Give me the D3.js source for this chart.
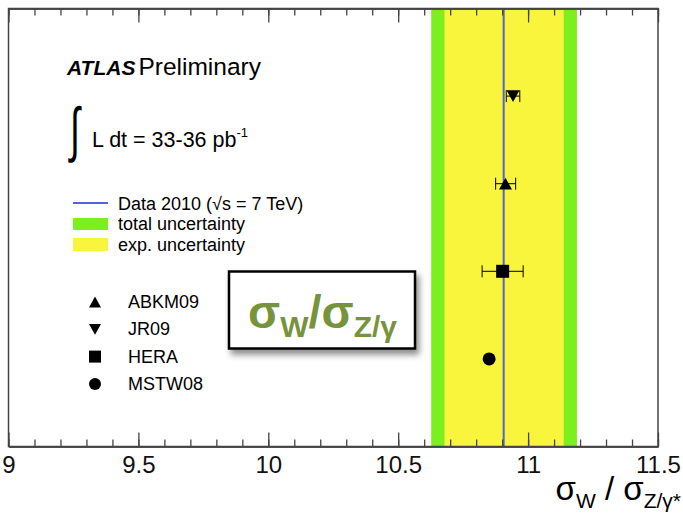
<!DOCTYPE html>
<html>
<head>
<meta charset="utf-8">
<script src="https://cdn.jsdelivr.net/npm/d3@7"></script>
<style>
  body { margin: 0; background: #fff; }
  text { font-family: 'Liberation Sans', Arial, sans-serif; }
</style>
</head>
<body>
<div id="chart"></div>
<script>
// measured ratio and its uncertainty bands
var dataValue = 10.906
var expBand = [10.678, 11.137]
var totalBand = [10.627, 11.188]

// theory predictions (PDF sets)
var models = ['MSTW08', 'HERA', 'ABKM09', 'JR09']
var modelValues = [10.85, 10.902, 10.913, 10.942]
var modelLow = [10.85, 10.823, 10.875, 10.916]
var modelHigh = [10.85, 10.981, 10.952, 10.968]
var modelShapes = ['circle', 'square', 'up', 'down']

var majorTicks = [9, 9.5, 10, 10.5, 11, 11.5]
var legendModels = ['ABKM09', 'JR09', 'HERA', 'MSTW08']
var legendShapes = ['up', 'down', 'square', 'circle']

var width = 683, height = 516
var svg = d3.select('#chart').append('svg').attr('width', width).attr('height', height)

var x = d3.scaleLinear().domain([9, 11.5]).range([8.5, 658])
var y = d3.scaleLinear().domain([0, 5]).range([446.5, 8.5])

var green = '#7cf01e', yellow = '#f9f53c', blue = '#5563d8'

// bands
svg.append('rect')
  .attr('x', x(totalBand[0])).attr('y', y(5))
  .attr('width', x(totalBand[1]) - x(totalBand[0])).attr('height', y(0) - y(5))
  .attr('fill', green)
svg.append('rect')
  .attr('x', x(expBand[0])).attr('y', y(5))
  .attr('width', x(expBand[1]) - x(expBand[0])).attr('height', y(0) - y(5))
  .attr('fill', yellow)
svg.append('line')
  .attr('x1', x(dataValue)).attr('x2', x(dataValue))
  .attr('y1', y(5)).attr('y2', y(0))
  .attr('stroke', blue).attr('stroke-width', 2)

// frame
svg.append('rect')
  .attr('x', x(9)).attr('y', y(5))
  .attr('width', x(11.5) - x(9)).attr('height', y(0) - y(5))
  .attr('fill', 'none').attr('stroke', '#444').attr('stroke-width', 1.5)

var minor = d3.range(90, 116).map(function (d) { return d / 10 })

function drawAxis(axisFn, ypos, labels) {
  var gMinor = svg.append('g')
    .attr('transform', 'translate(0,' + ypos + ')')
    .call(axisFn(x).tickValues(minor).tickSize(-7).tickSizeOuter(0).tickFormat(''))
  var gMajor = svg.append('g')
    .attr('transform', 'translate(0,' + ypos + ')')
    .call(axisFn(x).tickValues(majorTicks).tickSize(-14).tickSizeOuter(0)
      .tickPadding(9)
      .tickFormat(labels ? function (d) { return d } : ''))
  ;[gMinor, gMajor].forEach(function (g) {
    g.select('.domain').attr('stroke', '#444').attr('stroke-width', 1.5)
    g.selectAll('.tick line').attr('stroke', '#444').attr('stroke-width', 1.3)
  })
  gMajor.selectAll('.tick text')
    .attr('font-size', 24).attr('fill', '#111')
    .attr('font-family', "'Liberation Sans', Arial, sans-serif")
}
drawAxis(d3.axisBottom, y(0), true)
drawAxis(d3.axisTop, y(5), false)

// marker symbols
function marker(g, shape, cx, cy, s) {
  if (shape === 'circle') {
    g.append('circle').attr('cx', cx).attr('cy', cy).attr('r', s * 0.5).attr('fill', '#000')
  } else if (shape === 'square') {
    g.append('rect').attr('x', cx - s / 2).attr('y', cy - s / 2).attr('width', s).attr('height', s).attr('fill', '#000')
  } else {
    var h = s * 0.9, d = shape === 'up' ? -1 : 1
    g.append('path')
      .attr('d', 'M' + (cx - s / 2) + ',' + (cy - d * h / 2) + 'L' + (cx + s / 2) + ',' + (cy - d * h / 2) + 'L' + cx + ',' + (cy + d * h / 2) + 'Z')
      .attr('fill', '#000')
  }
}

// model points with error bars
var pts = svg.append('g')
models.forEach(function (m, i) {
  var cy = y(i + 1)
  if (modelHigh[i] > modelLow[i]) {
    pts.append('line').attr('x1', x(modelLow[i])).attr('x2', x(modelHigh[i]))
      .attr('y1', cy).attr('y2', cy).attr('stroke', '#000').attr('stroke-width', 1)
    ;[modelLow[i], modelHigh[i]].forEach(function (v) {
      pts.append('line').attr('x1', x(v)).attr('x2', x(v))
        .attr('y1', cy - 6).attr('y2', cy + 6).attr('stroke', '#000').attr('stroke-width', 1)
    })
  }
  marker(pts, modelShapes[i], x(modelValues[i]), cy, 13)
})

// texts
var t = svg.append('text').attr('x', 67).attr('y', 75)
t.append('tspan').attr('font-size', 21).attr('font-weight', 'bold').attr('font-style', 'italic').text('ATLAS')
t.append('tspan').attr('font-size', 24.5).attr('dx', 3).text('Preliminary')

svg.append('text').attr('transform', 'translate(70,150) scale(0.75,1.25)').attr('font-size', 48)
  .attr('font-family', "'DejaVu Sans', sans-serif").text('∫')
var lum = svg.append('text').attr('x', 92).attr('y', 147).attr('font-size', 21.5)
lum.append('tspan').text('L dt = 33-36 pb')
lum.append('tspan').attr('font-size', 13).attr('dy', -10).text('-1')

// legend
svg.append('line').attr('x1', 73).attr('x2', 108).attr('y1', 203).attr('y2', 203)
  .attr('stroke', blue).attr('stroke-width', 2)
svg.append('text').attr('x', 118).attr('y', 210).attr('font-size', 18).text('Data 2010 (√s = 7 TeV)')
svg.append('rect').attr('x', 73).attr('y', 218).attr('width', 35).attr('height', 12).attr('fill', green)
svg.append('text').attr('x', 118).attr('y', 230).attr('font-size', 18).text('total uncertainty')
svg.append('rect').attr('x', 73).attr('y', 238).attr('width', 35).attr('height', 13).attr('fill', yellow)
svg.append('text').attr('x', 118).attr('y', 251).attr('font-size', 18).text('exp. uncertainty')

var leg = svg.append('g')
legendModels.forEach(function (m, i) {
  var cy = 302 + i * 27.3
  marker(leg, legendShapes[i], 95, cy, 12)
  leg.append('text').attr('x', 128).attr('y', cy + 6).attr('font-size', 18).text(m)
})

// axis title
var at = svg.append('text').attr('x', 681).attr('y', 500).attr('text-anchor', 'end').attr('font-size', 33)
at.append('tspan').text('σ')
at.append('tspan').attr('font-size', 21).attr('dy', 8).text('W')
at.append('tspan').attr('dy', -8).text(' / σ')
at.append('tspan').attr('font-size', 21).attr('dy', 8).text('Z/γ*')

// highlighted label box
var defs = svg.append('defs')
var f = defs.append('filter').attr('id', 'shadow').attr('x', '-20%').attr('y', '-20%').attr('width', '140%').attr('height', '150%')
f.append('feDropShadow').attr('dx', 3).attr('dy', 5).attr('stdDeviation', 3).attr('flood-color', '#000').attr('flood-opacity', 0.45)
svg.append('rect').attr('x', 229).attr('y', 271.5).attr('width', 186).attr('height', 77)
  .attr('fill', '#fff').attr('stroke', '#000').attr('stroke-width', 2.5).attr('filter', 'url(#shadow)')
var bt = svg.append('text').attr('x', 248).attr('y', 328).attr('font-size', 47)
  .attr('font-family', "Lato, 'Open Sans', sans-serif").attr('font-weight', 900).attr('fill', '#77933c')
bt.append('tspan').text('σ')
bt.append('tspan').attr('font-size', 30).attr('dy', 9).text('W')
bt.append('tspan').attr('dy', -9).text('/σ')
bt.append('tspan').attr('font-size', 30).attr('dy', 9).text('Z/γ')
</script>
</body>
</html>
